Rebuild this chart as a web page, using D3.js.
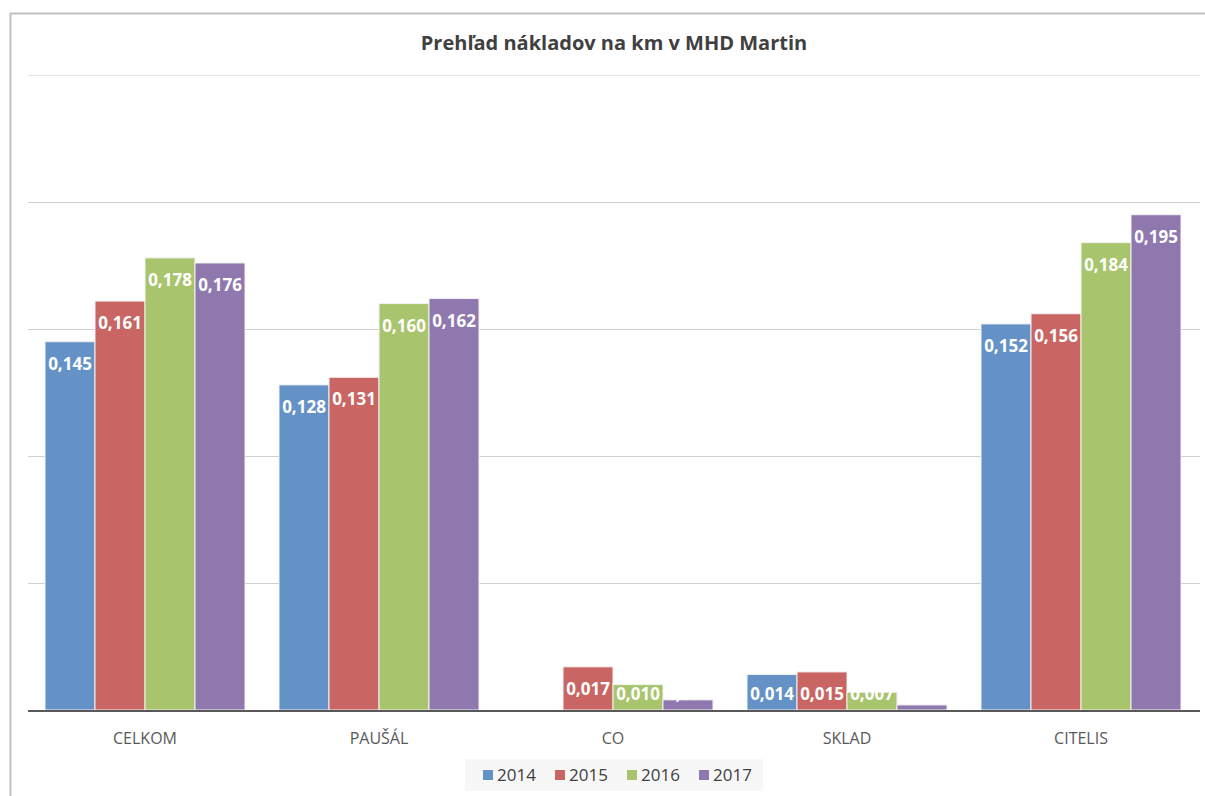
<!DOCTYPE html>
<html>
<head>
<meta charset="utf-8">
<script src="https://cdn.jsdelivr.net/npm/d3@7"></script>
<style>
body { margin: 0; background: #fff; }
svg { font-family: "Open Sans", "Noto Sans", sans-serif; }
</style>
</head>
<body>
<svg id="chart" width="1205" height="796"></svg>
<script>
var categories = ["CELKOM", "PAUŠÁL", "CO", "SKLAD", "CITELIS"];
var years = ["2014", "2015", "2016", "2017"];
var v2014 = [0.145, 0.128, 0.000, 0.014, 0.152];
var v2015 = [0.161, 0.131, 0.017, 0.015, 0.156];
var v2016 = [0.178, 0.160, 0.010, 0.007, 0.184];
var v2017 = [0.176, 0.162, 0.004, 0.002, 0.195];
var yTicks = [0, 0.05, 0.1, 0.15, 0.2, 0.25];
var colors = ["#6592c6", "#c96562", "#a8c46c", "#8f78ae"];

var series = [v2014, v2015, v2016, v2017];

function drawChart()
{
	var svg = d3.select("#chart");
	var left = 28, right = 1198, top = 75, bottom = 710;

	// outer frame
	svg.append("rect")
		.attr("x", 10.5).attr("y", 13.5)
		.attr("width", 1205).attr("height", 800)
		.attr("fill", "#fff")
		.attr("stroke", "#bfbfbf")
		.attr("stroke-width", 2);

	svg.append("text")
		.attr("x", 614).attr("y", 50)
		.attr("text-anchor", "middle")
		.attr("font-size", 20).attr("font-weight", "bold")
		.attr("fill", "#404040")
		.text("Prehľad nákladov na km v MHD Martin");

	var x0 = d3.scaleBand().domain(categories).range([left, right]).paddingInner(0).paddingOuter(0);
	var x1 = d3.scaleBand().domain(years).range([17, x0.bandwidth() - 17]);
	var y = d3.scaleLinear().domain([0, 0.25]).range([bottom, top]);

	svg.append("g").selectAll("line")
		.data(yTicks.slice(1))
		.enter()
		.append("line")
		.attr("x1", left).attr("x2", 1200)
		.attr("y1", function(d) { return Math.round(y(d)) + 0.5; })
		.attr("y2", function(d) { return Math.round(y(d)) + 0.5; })
		.attr("stroke", function(d, i) { return i == 4 ? "#e3e3e3" : "#cfcfcf"; })
		.attr("stroke-width", 1);

	var groups = svg.append("g").selectAll("g")
		.data(categories)
		.enter()
		.append("g")
		.attr("transform", function(d) { return "translate(" + x0(d) + ",0)"; });

	groups.selectAll("rect")
		.data(function(d, ci) { return series.map(function(s, si) { return {year: years[si], value: s[ci], si: si}; }); })
		.enter()
		.append("rect")
		.attr("x", function(d) { return x1(d.year); })
		.attr("y", function(d) { return y(d.value); })
		.attr("width", x1.bandwidth())
		.attr("height", function(d) { return bottom - y(d.value); })
		.attr("fill", function(d) { return colors[d.si]; })
		.attr("stroke", "#f3f3f3")
		.attr("stroke-width", 1);

	groups.selectAll("text")
		.data(function(d, ci) { return series.map(function(s, si) { return {year: years[si], value: s[ci], si: si}; }); })
		.enter()
		.append("text")
		.attr("x", function(d) { return x1(d.year) + x1.bandwidth() / 2; })
		.attr("y", function(d) { return Math.min(y(d.value) + 28, 700); })
		.attr("text-anchor", "middle")
		.attr("font-size", 17).attr("font-weight", "bold")
		.attr("fill", "#fff")
		.text(function(d) { return d.value.toFixed(3).replace(".", ","); });

	// baseline
	svg.append("line")
		.attr("x1", left).attr("x2", 1200)
		.attr("y1", bottom + 1).attr("y2", bottom + 1)
		.attr("stroke", "#595959").attr("stroke-width", 2);

	var xAxis = d3.axisBottom(x0).tickSize(0).tickPadding(0);
	var gx = svg.append("g")
		.attr("transform", "translate(0," + (bottom + 34) + ")")
		.call(xAxis);
	gx.select(".domain").remove();
	gx.selectAll("text")
		.attr("font-size", 16)
		.attr("font-family", "\"Open Sans\", \"Noto Sans\", sans-serif")
		.attr("fill", "#595959")
		.attr("dy", 0);

	// legend
	var legend = svg.append("g");
	legend.append("rect")
		.attr("x", 465).attr("y", 759)
		.attr("width", 298).attr("height", 32)
		.attr("fill", "#f7f7f7");
	var items = legend.selectAll("g")
		.data(years)
		.enter()
		.append("g")
		.attr("transform", function(d, i) { return "translate(" + (483 + i * 72) + ",775)"; });
	items.append("rect")
		.attr("x", 0).attr("y", -5)
		.attr("width", 10).attr("height", 10)
		.attr("fill", function(d, i) { return colors[i]; });
	items.append("text")
		.attr("x", 14).attr("y", 6)
		.attr("font-size", 17)
		.attr("fill", "#404040")
		.text(function(d) { return d; });
}

drawChart();
</script>
</body>
</html>
